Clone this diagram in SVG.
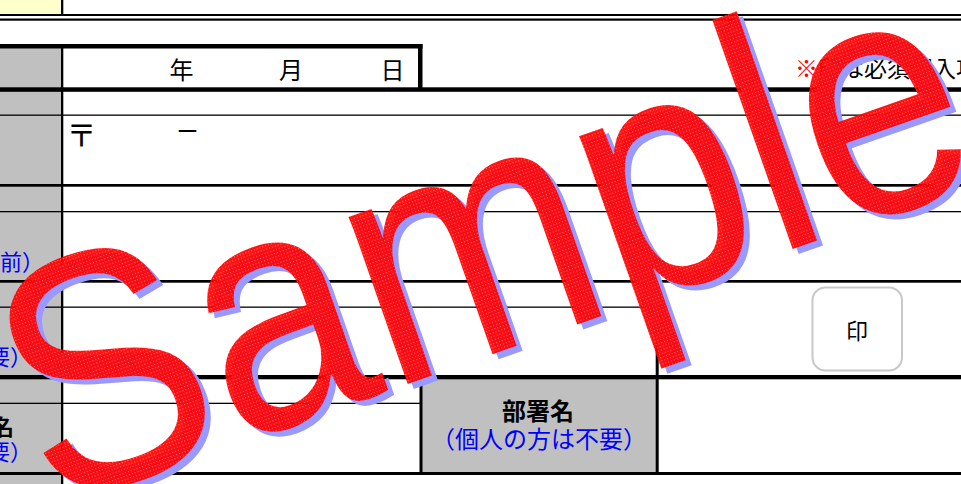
<svg xmlns="http://www.w3.org/2000/svg" width="961" height="484" viewBox="0 0 961 484">
<style>
.ln{fill:#000}
.gray{fill:#c0c0c0}
.jp{font-family:"Noto Sans CJK JP","Noto Sans",sans-serif;font-size:22px;fill:#000}
.big{font-size:24px}
.blue{fill:#0000ff}
.bold{font-weight:bold}
.wm{font-family:"Liberation Sans",Arial,sans-serif;font-size:294px}
</style>
<defs>
<pattern id="redp" width="3" height="3" patternUnits="userSpaceOnUse">
<rect width="3" height="3" fill="#ff0000"/>
<rect width="1" height="1" fill="#ff6a6a"/>
</pattern>
</defs>
<rect width="961" height="484" fill="#fff"/>
<g id="cells">
<rect x="0" y="0" width="61" height="13.5" fill="#ffffcc"/>
<rect class="gray" x="0" y="48" width="61" height="436"/>
<rect class="gray" x="422" y="379" width="234" height="93"/>
<rect x="812.5" y="287.5" width="89.5" height="83" rx="13" fill="#fff" stroke="#c8c8c8" stroke-width="2"/>
</g>
<g id="lines">
<rect class="ln" x="61" y="0" width="2.3" height="14"/>
<rect class="ln" x="0" y="14" width="961" height="2"/>
<rect class="ln" x="0" y="18.5" width="961" height="2.2"/>
<rect class="ln" x="0" y="44" width="422.5" height="4.5"/>
<rect class="ln" x="418" y="44" width="4.5" height="46"/>
<rect class="ln" x="61" y="44" width="2.3" height="440"/>
<rect class="ln" x="0" y="87.3" width="961" height="4.5"/>
<rect class="ln" x="0" y="114.5" width="961" height="1.3"/>
<rect class="ln" x="0" y="184" width="961" height="2.7"/>
<rect class="ln" x="0" y="211" width="961" height="1.3"/>
<rect class="ln" x="0" y="280" width="961" height="2.7"/>
<rect class="ln" x="0" y="306.5" width="657" height="1.3"/>
<rect class="ln" x="0" y="375" width="961" height="4.3"/>
<rect class="ln" x="0" y="402.7" width="421" height="1.3"/>
<rect class="ln" x="0" y="472" width="961" height="3"/>
<rect class="ln" x="419.5" y="377" width="3" height="97"/>
<rect class="ln" x="655.7" y="281" width="3" height="193"/>
</g>
<g id="texts">
<text class="jp big" x="181.5" y="78.5" text-anchor="middle">年</text>
<text class="jp big" x="291" y="78.5" text-anchor="middle">月</text>
<text class="jp big" x="392.5" y="78.5" text-anchor="middle">日</text>
<text class="jp" x="795" y="77" style="font-size:23px"><tspan fill="#ff0000">※</tspan>印は必須記入項目</text>
<text class="jp" x="81.5" y="146" text-anchor="middle" style="font-size:30px">〒</text>
<text class="jp" x="187.5" y="138.5" text-anchor="middle">ー</text>
<text class="jp blue" x="0" y="270">前）</text>
<text class="jp blue" x="-12" y="365">要）</text>
<text class="jp bold" x="-8" y="435">名</text>
<text class="jp blue" x="-12" y="460">要）</text>
<text class="jp" x="857" y="339" text-anchor="middle">印</text>
<text class="jp big bold" x="538" y="420" text-anchor="middle">部署名</text>
<text class="jp big blue" x="539" y="447.5" text-anchor="middle">（個人の方は不要）</text>
</g>
<g id="watermark">
<text class="wm" fill="#9999ff" transform="translate(55.1,514.5) rotate(-19.3) scale(1,1.14)">Sample</text>
<text class="wm" fill="url(#redp)" fill-opacity="0.93" transform="translate(49.1,509.5) rotate(-19.3) scale(1,1.14)">Sample</text>
</g>
</svg>
